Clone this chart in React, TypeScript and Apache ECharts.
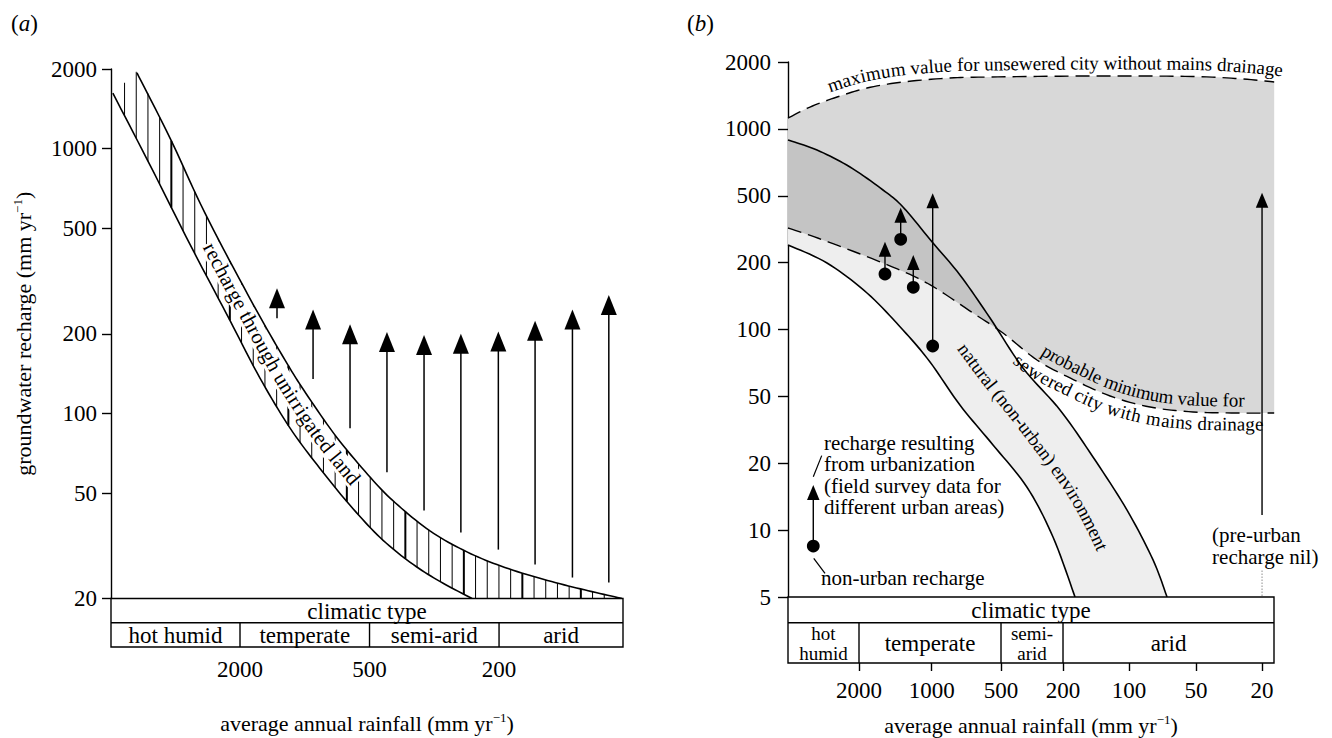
import React, { useEffect, useRef } from "react";
import * as echarts from "echarts";

const SERIF = "Liberation Serif, Times New Roman, DejaVu Serif, serif";

// ---------------- Panel (a) ----------------
const rainTicksA = [2000, 500, 200];
const rainTickSlotsA = [0, 1, 2];
const rechargeTicksA = [20, 50, 100, 200, 500, 1000, 2000];
const climateNamesA = ["hot humid", "temperate", "semi-arid", "arid"];
const climateBoundsA = [2000, 500, 200];
// [rainfall mm/yr, recharge mm/yr]
const bandLowerA = [[7800, 1620], [5240, 867], [3420, 436], [2230, 225], [1615, 136], [1170, 88], [850, 62], [616, 45], [464, 34], [375, 27.4], [304, 23.2], [242, 20]];
const bandUpperA = [[6025, 1932], [4230, 1097], [2909, 571], [1759, 263], [1235, 159], [987, 119], [708, 81], [495, 57], [417, 46], [326, 36], [251, 30], [192, 26.2], [142, 23.4], [106.5, 21.4], [83.8, 20]];
const bandLeftTopA = [[7800, 1620], [7170, 1726], [6290, 1882]];
const arrowRainA = [1346, 915, 616, 442, 340, 262, 201, 155, 119, 92];
const arrowFromA = [229, 135, 88, 60, 43, 35.5, 30.6, 26.9, 24, 23];
const arrowToA = [297, 247, 217, 203, 198, 200, 204, 224, 247, 280];
const bandLabelA = "recharge through unirrigated land";
const bandLabelStartA = 2877;

// ---------------- Panel (b) ----------------
const rainTicksB = [2000, 1000, 500, 200, 100, 50, 20];
const rainTickSlotsB = [0, 1.082, 2.114, 3.037, 4.02, 5.017, 6];
const rechargeTicksB = [5, 10, 20, 50, 100, 200, 500, 1000, 2000];
const rechargeSlotsB = [0, 1, 2, 3, 4, 5, 6, 7, 8];
const climateNamesB = ["hot\nhumid", "temperate", "semi-\narid", "arid"];
const climateBoundsB = [2000, 500, 200];
const maxUnseweredB = [[3936, 1119], [3192, 1254], [2466, 1391], [1853, 1527], [1315, 1626], [833, 1694], [558, 1712], [146, 1730], [51.6, 1721], [26, 1677], [16.9, 1626]];
const minSeweredB = [[3936, 321.5], [2819, 272.8], [1591, 199.2], [1046, 161.9], [662, 118.7], [485.5, 96.4], [293.8, 72.9], [185.8, 60.5], [122, 50.2], [80.4, 43.2], [51.6, 40.4], [27.1, 39.8], [16.9, 39.8]];
const naturalUpperB = [[3936, 891], [2985, 803], [2179, 673.5], [1591, 530.7], [1315, 428.6], [987, 261.7], [753.9, 176], [558, 112.6], [361.3, 67.1], [209.1, 41.5], [146, 21.8], [102.1, 12.3], [78, 7.34], [67.5, 5]];
const naturalLowerB = [[3936, 254.6], [2714, 199.2], [1853, 146], [1315, 99.5], [1016, 71.4], [753.9, 44.4], [541.6, 25.7], [340.5, 15.6], [231.9, 9.31], [176.3, 5]];
const surveyRainB = [1561, 1344, 1192, 990];
const surveyNonUrbanB = [177.8, 275.3, 154.9, 84.3];
const surveyUrbanB = [266.4, 424.4, 222, 512.9];
const aridRainB = 20;
const aridFromB = 11.7;
const aridUrbanB = 516;
const aridDottedB = [5.07, 6.61];
const keyRainB = 3093;
const keyNonUrbanB = 8.48;
const keyUrbanB = 15.96;
const maxLabelB = "maximum value for unsewered city without mains drainage";
const minLabel1B = "probable minimum value for";
const minLabel2B = "sewered city with mains drainage";
const naturalLabelB = "natural (non-urban) environment";
const keyNoteB = "recharge resulting\nfrom urbanization\n(field survey data for\ndifferent urban areas)";
const nonUrbanNoteB = "non-urban recharge";
const preUrbanNoteB = "(pre-urban\nrecharge nil)";

// ---------------- helpers ----------------
function makeLogSlots(ticks: number[], slots: number[]) {
  const L = ticks.map(Math.log10);
  const n = L.length;
  const dec = L[n - 1] < L[0];
  return (v: number) => {
    const lv = Math.log10(v);
    let k = 0;
    for (k = 0; k < n - 2; k++) {
      const a = L[k + 1];
      if (dec ? lv >= a : lv <= a) break;
    }
    const t = (lv - L[k]) / (L[k + 1] - L[k]);
    return slots[k] + t * (slots[k + 1] - slots[k]);
  };
}
const xPosA = makeLogSlots(rainTicksA, rainTickSlotsA);
const xPosB = makeLogSlots(rainTicksB, rainTickSlotsB);
const yPosB = makeLogSlots(rechargeTicksB, rechargeSlotsB);
const xMinA = -0.996, xMaxA = 2.957;
const xMinB = -1.057, xMaxB = 6.178;

function smooth(pts: number[][], seg = 10): number[][] {
  if (pts.length < 3) return pts;
  const out: number[][] = [];
  for (let i = 0; i < pts.length - 1; i++) {
    const p0 = pts[Math.max(i - 1, 0)], p1 = pts[i], p2 = pts[i + 1], p3 = pts[Math.min(i + 2, pts.length - 1)];
    for (let j = 0; j < seg; j++) {
      const t = j / seg, t2 = t * t, t3 = t2 * t;
      out.push([0, 1].map((k) => 0.5 * (2 * p1[k] + (-p0[k] + p2[k]) * t + (2 * p0[k] - 5 * p1[k] + 4 * p2[k] - p3[k]) * t2 + (-p0[k] + 3 * p1[k] - 3 * p2[k] + p3[k]) * t3)));
    }
  }
  out.push(pts[pts.length - 1]);
  return out;
}
function yAt(pl: number[][], x: number) {
  if (x <= pl[0][0]) return pl[0][1];
  for (let i = 1; i < pl.length; i++) {
    if (pl[i][0] >= x) {
      const a = pl[i - 1], b = pl[i];
      const t = b[0] === a[0] ? 0 : (x - a[0]) / (b[0] - a[0]);
      return a[1] + t * (b[1] - a[1]);
    }
  }
  return pl[pl.length - 1][1];
}
function xAtY(pl: number[][], y: number) {
  if (y <= pl[0][1]) return pl[0][0];
  for (let i = 1; i < pl.length; i++) {
    if (pl[i][1] >= y) {
      const a = pl[i - 1], b = pl[i];
      const t = b[1] === a[1] ? 0 : (y - a[1]) / (b[1] - a[1]);
      return a[0] + t * (b[0] - a[0]);
    }
  }
  return pl[pl.length - 1][0];
}
function midline(up: number[][], lo: number[][], y0: number, y1: number) {
  const out: number[][] = [];
  for (let y = y0; y <= y1; y += 2) out.push([(xAtY(up, y) + xAtY(lo, y)) / 2, y]);
  return out;
}
let mctx: CanvasRenderingContext2D | null = null;
function measure(text: string, font: string) {
  if (!mctx) mctx = document.createElement("canvas").getContext("2d");
  mctx!.font = font;
  return mctx!.measureText(text).width;
}
function textAlong(text: string, size: number, pts: number[][], startX: number, offset: number, bg?: string) {
  const cum = [0];
  for (let i = 1; i < pts.length; i++) cum.push(cum[i - 1] + Math.hypot(pts[i][0] - pts[i - 1][0], pts[i][1] - pts[i - 1][1]));
  let s = 0;
  for (let i = 1; i < pts.length; i++) {
    if (pts[i][0] >= startX) {
      const d = pts[i][0] - pts[i - 1][0];
      const t = d === 0 ? 0 : (startX - pts[i - 1][0]) / d;
      s = cum[i - 1] + t * (cum[i] - cum[i - 1]);
      break;
    }
  }
  const font = `${size}px ${SERIF}`;
  const out: any[] = [];
  for (const ch of text) {
    const w = measure(ch, font);
    const m = s + w / 2;
    let i = 1;
    while (i < pts.length - 1 && cum[i] < m) i++;
    const a = pts[i - 1], b = pts[i];
    const L = cum[i] - cum[i - 1] || 1;
    const t = (m - cum[i - 1]) / L;
    const ang = Math.atan2(b[1] - a[1], b[0] - a[0]);
    const px = a[0] + t * (b[0] - a[0]) + Math.sin(ang) * offset;
    const py = a[1] + t * (b[1] - a[1]) - Math.cos(ang) * offset;
    const style: any = { text: ch, font, fill: "#000", align: "center", verticalAlign: "middle", textAlign: "center", textVerticalAlign: "middle" };
    if (bg) { style.backgroundColor = bg; style.lineHeight = size * 0.95; style.padding = [0, 1]; }
    out.push({ type: "text", x: px, y: py, rotation: -ang, style });
    s += w;
  }
  return out;
}
function poly(points: number[][], width = 1.6, dash?: number[]) {
  return { type: "polyline", shape: { points }, style: { stroke: "#000", lineWidth: width, fill: "none", lineDash: dash || null } };
}
function arrow(x: number, yFrom: number, yTip: number, hw: number, hh: number, lw = 1.4) {
  return [
    { type: "line", shape: { x1: x, y1: yFrom, x2: x, y2: yTip + hh - 1 }, style: { stroke: "#000", lineWidth: lw } },
    { type: "polygon", shape: { points: [[x, yTip], [x - hw / 2, yTip + hh], [x + hw / 2, yTip + hh]] }, style: { fill: "#000" } },
  ];
}
function fmtBy(slots: number[], ticks: number[]) {
  return (v: number) => {
    let best = 0;
    slots.forEach((p, i) => { if (Math.abs(p - v) < Math.abs(slots[best] - v)) best = i; });
    return String(ticks[best]);
  };
}

// ---------------- render functions ----------------
function renderA(params: any, api: any) {
  const cs = params.coordSys;
  const bottom = cs.y + cs.height;
  const P = (p: number[]) => api.coord([xPosA(p[0]), p[1]]) as number[];
  const lower = smooth(bandLowerA.map(P));
  const upper = smooth(bandUpperA.map(P));
  const top = smooth(bandLeftTopA.concat(bandUpperA).map(P));
  const children: any[] = [];
  const x0 = lower[0][0];
  const lastLowerX = lower[lower.length - 1][0];
  for (let k = 1; k < 200; k++) {
    const x = x0 + k * 11.7;
    if (x > cs.x + cs.width - 1) break;
    const yb = x >= lastLowerX ? bottom : Math.min(yAt(lower, x), bottom);
    const yt = yAt(top, x);
    if (yb - yt > 1) children.push({ type: "line", shape: { x1: x, y1: yt, x2: x, y2: yb }, style: { stroke: "#000", lineWidth: k % 5 === 0 ? 2 : 1 } });
  }
  const mid = midline(upper, lower, Math.max(upper[0][1], lower[0][1]), bottom - 6);
  const sx = api.coord([xPosA(bandLabelStartA), 100])[0];
  children.push(...textAlong(bandLabelA, 21, mid, sx, 3, "#fff"));
  children.push(poly(lower), poly(upper));
  arrowRainA.forEach((r, i) => {
    const a = api.coord([xPosA(r), arrowFromA[i]]);
    const b = api.coord([xPosA(r), arrowToA[i]]);
    children.push(...arrow(a[0], a[1], b[1], 16, 20, 1.5));
  });
  return { type: "group", children };
}

function renderB(params: any, api: any) {
  const cs = params.coordSys;
  const P = (p: number[]) => api.coord([xPosB(p[0]), yPosB(p[1])]) as number[];
  const mx = smooth(maxUnseweredB.map(P));
  const mn = smooth(minSeweredB.map(P));
  const nu = smooth(naturalUpperB.map(P));
  const nl = smooth(naturalLowerB.map(P));
  const children: any[] = [];
  children.push({ type: "polygon", shape: { points: nu.concat(nl.slice().reverse()) }, style: { fill: "#eeeeee" } });
  children.push({ type: "polygon", shape: { points: mx.concat(mn.slice().reverse()) }, style: { fill: "#d8d8d8" } });
  const ovTop: number[][] = [], ovBot: number[][] = [];
  for (let x = cs.x; x <= cs.x + cs.width; x += 1) {
    const a = yAt(nu, x), b = yAt(mn, x);
    if (a < b) { ovTop.push([x, a]); ovBot.push([x, b]); } else if (ovTop.length) { ovTop.push([x, (a + b) / 2]); break; }
  }
  if (ovTop.length > 1) children.push({ type: "polygon", shape: { points: ovTop.concat(ovBot.reverse()) }, style: { fill: "#c4c4c4" } });
  children.push(poly(mx, 1.4, [14, 7]), poly(mn, 1.4, [14, 7]), poly(nu, 1.6), poly(nl, 1.6));

  surveyRainB.forEach((r, i) => {
    const a = P([r, surveyNonUrbanB[i]]);
    const b = P([r, surveyUrbanB[i]]);
    children.push(...arrow(a[0], a[1], b[1], 12.5, 15, 1.4));
    children.push({ type: "circle", shape: { cx: a[0], cy: a[1], r: 6.4 }, style: { fill: "#000" } });
  });
  {
    const a = P([aridRainB, aridFromB]);
    const b = P([aridRainB, aridUrbanB]);
    children.push(...arrow(a[0], a[1], b[1], 12.5, 15, 1.4));
    const d0 = P([aridRainB, aridDottedB[0]]);
    const d1 = P([aridRainB, aridDottedB[1]]);
    children.push({ type: "line", shape: { x1: d0[0], y1: d0[1], x2: d1[0], y2: d1[1] }, style: { stroke: "#555", lineWidth: 1, lineDash: [1, 2] } });
  }
  {
    const a = P([keyRainB, keyNonUrbanB]);
    const b = P([keyRainB, keyUrbanB]);
    children.push(...arrow(a[0], a[1], b[1], 12.5, 15, 1.4));
    children.push({ type: "circle", shape: { cx: a[0], cy: a[1], r: 6.4 }, style: { fill: "#000" } });
    const s0 = P([3093, 17.4]), s1 = P([2854, 22.2]);
    children.push({ type: "line", shape: { x1: s0[0], y1: s0[1], x2: s1[0], y2: s1[1] }, style: { stroke: "#000", lineWidth: 1.2 } });
    const t0 = P([3079, 7.47]), t1 = P([2766, 6.39]);
    children.push({ type: "line", shape: { x1: t0[0], y1: t0[1], x2: t1[0], y2: t1[1] }, style: { stroke: "#000", lineWidth: 1.2 } });
  }
  const noteFont = `21px ${SERIF}`;
  const note = (txt: string, p: number[], va = "top") => ({
    type: "text", x: p[0], y: p[1],
    style: { text: txt, font: noteFont, fill: "#000", align: "left", verticalAlign: va, textAlign: "left", textVerticalAlign: va, lineHeight: 21.5 },
  });
  children.push(note(keyNoteB, P([2793, 30.6])));
  children.push(note(nonUrbanNoteB, P([2873, 6.09]), "middle"));
  children.push(note(preUrbanNoteB, P([40.0, 10.6])));

  children.push(...textAlong(maxLabelB, 19, mx, P([2587, 100])[0], 13));
  children.push(...textAlong(minLabel1B, 19, mn, P([293.8, 100])[0], 13));
  children.push(...textAlong(minLabel2B, 19, mn, P([361.3, 100])[0], -11));
  const midN = midline(nu, nl, Math.max(nu[0][1], nl[0][1]), cs.y + cs.height - 4);
  children.push(...textAlong(naturalLabelB, 19, midN, P([738.6, 100])[0], 0));
  return { type: "group", children };
}

function renderTable(names: string[], bounds: number[], xPos: (v: number) => number, split: number, fs2: number, lh: number) {
  return (params: any, api: any) => {
    const cs = params.coordSys;
    const x0 = cs.x, x1 = cs.x + cs.width, y0 = cs.y, y1 = cs.y + cs.height;
    const ys = api.coord([0, split])[1];
    const bx = bounds.map((b) => api.coord([xPos(b), 0])[0]);
    const font = `23px ${SERIF}`;
    const font2 = `${fs2}px ${SERIF}`;
    const children: any[] = [
      { type: "rect", shape: { x: x0, y: y0, width: x1 - x0, height: y1 - y0 }, style: { fill: "#fff", stroke: "#000", lineWidth: 1.4 } },
      { type: "line", shape: { x1: x0, y1: ys, x2: x1, y2: ys }, style: { stroke: "#000", lineWidth: 1.4 } },
    ];
    bx.forEach((x) => children.push({ type: "line", shape: { x1: x, y1: ys, x2: x, y2: y1 }, style: { stroke: "#000", lineWidth: 1.4 } }));
    children.push({ type: "text", x: (x0 + x1) / 2, y: (y0 + ys) / 2 + 1, style: { text: "climatic type", font, fill: "#000", align: "center", verticalAlign: "middle", textAlign: "center", textVerticalAlign: "middle" } });
    const edges = [x0, ...bx, x1];
    names.forEach((nm, i) => {
      const multi = nm.indexOf("\n") >= 0;
      children.push({ type: "text", x: (edges[i] + edges[i + 1]) / 2, y: (ys + y1) / 2 + 1, style: { text: nm, font: multi ? font2 : font, fill: "#000", align: "center", verticalAlign: "middle", textAlign: "center", textVerticalAlign: "middle", lineHeight: multi ? lh : 23 } });
    });
    return { type: "group", children };
  };
}

function buildOption() {
  const tickLabel = { fontFamily: SERIF, fontSize: 23, color: "#000" };
  const nameStyle = {
    fontFamily: SERIF, fontSize: 22, color: "#000", lineHeight: 24,
    rich: { s: { fontFamily: SERIF, fontSize: 13, color: "#000", verticalAlign: "top", lineHeight: 14 } },
  };
  const slotsA = rainTicksA.map(xPosA);
  const slotsB = rainTicksB.map(xPosB);
  const ySlotsB = rechargeTicksB.map(yPosB);
  const blackLine = { lineStyle: { color: "#000", width: 1.4 } };
  return {
    animation: false,
    backgroundColor: "#fff",
    textStyle: { fontFamily: SERIF },
    grid: [
      { left: 111, top: 69, width: 512, height: 529.5 },
      { left: 111, top: 598.5, width: 512, height: 48.5 },
      { left: 788, top: 62, width: 486, height: 535 },
      { left: 788, top: 597, width: 486, height: 66 },
    ],
    xAxis: [
      { gridIndex: 0, type: "value", min: xMinA, max: xMaxA, show: false, splitLine: { show: false }, axisLine: { onZero: false } },
      {
        gridIndex: 1, type: "value", min: xMinA, max: xMaxA,
        axisLine: { show: false, onZero: false }, axisTick: { show: false }, splitLine: { show: false },
        axisLabel: { customValues: slotsA, formatter: fmtBy(slotsA, rainTicksA), margin: 11, ...tickLabel },
        name: "average annual rainfall (mm yr{s|−1})", nameLocation: "middle", nameGap: 64, nameTextStyle: nameStyle,
      },
      { gridIndex: 2, type: "value", min: xMinB, max: xMaxB, show: false, splitLine: { show: false }, axisLine: { onZero: false } },
      {
        gridIndex: 3, type: "value", min: xMinB, max: xMaxB,
        axisLine: { show: false, onZero: false }, splitLine: { show: false },
        axisTick: { show: true, customValues: slotsB, length: 8, ...blackLine },
        axisLabel: { customValues: slotsB, formatter: fmtBy(slotsB, rainTicksB), margin: 16, ...tickLabel },
        name: "average annual rainfall (mm yr{s|−1})", nameLocation: "middle", nameGap: 50, nameTextStyle: nameStyle,
      },
    ],
    yAxis: [
      {
        gridIndex: 0, type: "log", logBase: 10, min: 20, max: 2000,
        axisLine: { show: true, onZero: false, ...blackLine }, splitLine: { show: false },
        axisTick: { show: true, customValues: rechargeTicksA, length: 9, ...blackLine },
        axisLabel: { customValues: rechargeTicksA, formatter: (v: number) => String(Math.round(v)), margin: 14, ...tickLabel },
        name: "groundwater recharge (mm yr{s|−1})", nameLocation: "middle", nameGap: 76, nameRotate: 90, nameTextStyle: nameStyle,
      },
      { gridIndex: 1, type: "value", min: 0, max: 1, show: false, splitLine: { show: false }, axisLine: { onZero: false } },
      {
        gridIndex: 2, type: "value", min: 0, max: 8,
        axisLine: { show: true, onZero: false, ...blackLine }, splitLine: { show: false },
        axisTick: { show: true, customValues: ySlotsB, length: 10, ...blackLine },
        axisLabel: { customValues: ySlotsB, formatter: fmtBy(ySlotsB, rechargeTicksB), margin: 17, ...tickLabel },
      },
      { gridIndex: 3, type: "value", min: 0, max: 1, show: false, splitLine: { show: false }, axisLine: { onZero: false } },
    ],
    series: [
      { type: "custom", xAxisIndex: 0, yAxisIndex: 0, data: [[0, 100]], renderItem: renderA, silent: true, z: 2 },
      { type: "custom", xAxisIndex: 1, yAxisIndex: 1, data: [[0, 0.5]], renderItem: renderTable(climateNamesA, climateBoundsA, xPosA, 0.5, 23, 23), silent: true, z: 3 },
      { type: "custom", xAxisIndex: 2, yAxisIndex: 2, data: [[0, 4]], renderItem: renderB, silent: true, z: 1 },
      { type: "custom", xAxisIndex: 3, yAxisIndex: 3, data: [[0, 0.5]], renderItem: renderTable(climateNamesB, climateBoundsB, xPosB, 0.61, 19, 20), silent: true, z: 3 },
    ],
    graphic: [
      { type: "text", left: 11, top: 12, style: { text: "({i|a})", font: `23px ${SERIF}`, fill: "#000", rich: { i: { font: `italic 23px ${SERIF}`, fill: "#000" } } } },
      { type: "text", left: 687, top: 12, style: { text: "({i|b})", font: `23px ${SERIF}`, fill: "#000", rich: { i: { font: `italic 23px ${SERIF}`, fill: "#000" } } } },
    ],
  };
}

export default function App() {
  const ref = useRef<HTMLDivElement>(null);
  useEffect(() => {
    const chart = echarts.init(ref.current!, null, { renderer: "svg" });
    chart.setOption(buildOption() as any);
    return () => chart.dispose();
  }, []);
  return <div ref={ref} style={{ position: "absolute", left: 0, top: 0, width: 1332, height: 738, background: "#fff" }} />;
}
